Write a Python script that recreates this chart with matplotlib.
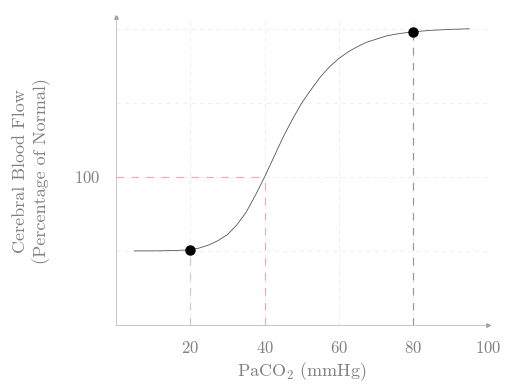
import numpy as np
import matplotlib
matplotlib.use("Agg")
import matplotlib.pyplot as plt

# curve values (PaCO2 in mmHg, flow in % of normal)
paco2 = [5, 10, 15, 20, 22.5, 25, 27.5, 30, 32.5, 35, 37.5, 40, 42.5, 45, 47.5,
         50, 52.5, 55, 57.5, 60, 62.5, 65, 67.5, 70, 72.5, 75, 77.5, 80, 85, 90, 95]
flow = [50, 50, 50.2, 50.7, 52, 54, 57, 61, 67.5, 76, 87.5, 100, 113.5, 127, 139,
        150, 159, 167.5, 174.5, 180, 184.5, 188, 191, 193, 195, 196.3, 197.2, 198, 199, 199.6, 200]

# marked points
pts_x = [20, 80]
pts_y = [50.5, 198]

x_ticks = [20, 40, 60, 80, 100]
y_grid = [50, 100, 150, 200]
y_ticks = [100]

plt.rcParams['font.family'] = 'cmr10'
plt.rcParams['mathtext.fontset'] = 'cm'
plt.rcParams['axes.formatter.use_mathtext'] = True

txt = '#808080'
fig = plt.figure(figsize=(5.06, 3.85), dpi=100)
ax = fig.add_axes([0.229, 0.156, 0.735, 0.8])
ax.set_xlim(0, 100)
ax.set_ylim(0, 208)

# grid
for gx in x_ticks:
    ax.plot([gx, gx], [0, 208], color='#ebebeb', lw=0.6, ls=(0, (5, 5)), zorder=1)
for gy in y_grid:
    ax.plot([0, 100], [gy, gy], color='#ebebeb', lw=0.6, ls=(0, (5, 5)), zorder=1)

# helper lines
ax.plot([0, 40], [100, 100], color='#eeaab6', lw=0.9, ls=(0, (6, 6)), zorder=2)
ax.plot([40, 40], [0, 100], color='#eeaab6', lw=0.9, ls=(0, (6, 6)), zorder=2)
ax.plot([20, 20], [0, pts_y[0]], color='#cccccc', lw=0.9, ls=(0, (6, 6)), zorder=2)
ax.plot([80, 80], [0, pts_y[1]], color='#999999', lw=0.9, ls=(0, (6, 6)), zorder=2)

ax.plot(paco2, flow, color='#555555', lw=0.6, zorder=3)
ax.plot(pts_x, pts_y, 'o', color='black', ms=6.5, zorder=4)

for s in ['top', 'right']:
    ax.spines[s].set_visible(False)
for s in ['left', 'bottom']:
    ax.spines[s].set_color('#bdbdbd')
    ax.spines[s].set_linewidth(0.6)
ax.plot(1, 0, '>', color='#999999', ms=2.5, transform=ax.transAxes, clip_on=False)
ax.plot(0, 1, '^', color='#999999', ms=2.5, transform=ax.transAxes, clip_on=False)

ax.set_xticks(x_ticks)
ax.set_yticks(y_ticks)
ax.tick_params(length=0, pad=11, labelsize=12, labelcolor=txt)
ax.set_xlabel('PaCO$_2$ (mmHg)', fontsize=13, color=txt, labelpad=3)
ax.set_ylabel('Cerebral Blood Flow\n(Percentage of Normal)', fontsize=13,
              color=txt, labelpad=17, linespacing=1.3)

fig.savefig('out.png', dpi=100)
